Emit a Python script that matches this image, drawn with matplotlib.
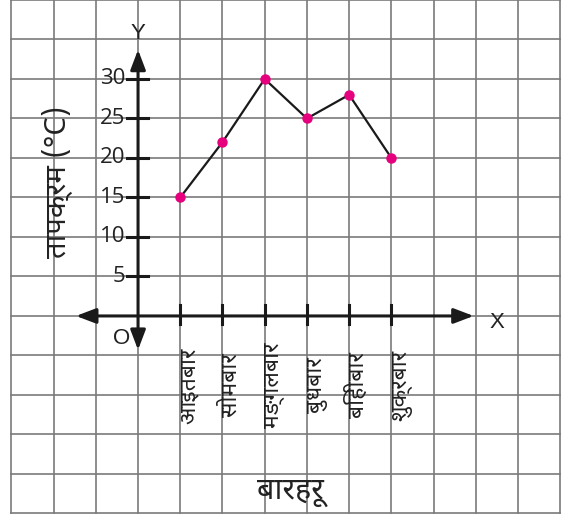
import matplotlib
matplotlib.use("Agg")
import matplotlib.pyplot as plt
from matplotlib import font_manager

# ---- data ----
days = ['आइतबार', 'सोमबार', 'मङ्गलबार', 'बुधबार', 'बिहीबार', 'शुक्रबार']
temps = [15, 22, 30, 25, 28, 20]
yticks = [5, 10, 15, 20, 25, 30]
ylabel = 'तापक्रम (°C)'
xlabel = 'बारहरू'

installed = {f.name for f in font_manager.fontManager.ttflist}
deva = next((n for n in ['Noto Sans Devanagari', 'Hind', 'Mukta', 'FreeSans']
             if n in installed), None)
deva_family = ([deva] if deva else []) + ['Open Sans', 'DejaVu Sans']

fig = plt.figure(figsize=(5.64, 5.15), dpi=100)
ax = fig.add_axes([0, 0, 1, 1])
ax.set_xlim(-3.27, 10.09)
ax.set_ylim(-25.2, 40)
ax.axis('off')

grid_c = '#7a7a7a'
for xv in range(-3, 11):
    ax.plot([xv, xv], [-25, 40], color=grid_c, lw=1.2, zorder=1)
for yv in range(-25, 41, 5):
    ax.plot([-3, 10], [yv, yv], color=grid_c, lw=1.2, zorder=1)

# axes with arrows
arrow_kw = dict(arrowstyle='<|-|>,head_length=1.0,head_width=0.38',
                color='#1a1a1a', lw=2.2, shrinkA=0, shrinkB=0, mutation_scale=12)
ax.annotate('', xy=(7.95, 0), xytext=(-1.47, 0), arrowprops=arrow_kw, zorder=3)
ax.annotate('', xy=(0, 33.7), xytext=(0, -4.3), arrowprops=arrow_kw, zorder=3)

# ticks
xs = list(range(1, len(days) + 1))
for x in xs:
    ax.plot([x, x], [-1.0, 1.4], color='#1a1a1a', lw=2.2, zorder=3)
for yv in yticks:
    ax.plot([-0.25, 0.23], [yv, yv], color='#1a1a1a', lw=2.2, zorder=3)
    ax.text(-0.3, yv, str(yv), ha='right', va='center', fontsize=16,
            family='Open Sans', color='#222222', zorder=4)

ax.text(0, 35.7, 'Y', ha='center', va='center', fontsize=16,
        family='Liberation Sans', color='#222222')
ax.text(8.5, -0.8, 'X', ha='center', va='center', fontsize=16,
        family='Liberation Sans', color='#222222')
ax.text(-0.38, -2.8, 'O', ha='center', va='center', fontsize=16,
        family='Liberation Sans', color='#222222')

# day labels
for x, d in zip(xs, days):
    ax.text(x - 0.08, -8.8, d, rotation=90, rotation_mode='anchor',
            ha='center', va='top', fontsize=16.5, family=deva_family,
            weight='semibold', color='#222222', zorder=4)

ax.text(-1.92, 17.0, ylabel, rotation=90, ha='center', va='center',
        fontsize=21, family=deva_family, weight='semibold', color='#222222')
ax.text(3.6, -22.3, xlabel, ha='center', va='center', fontsize=22,
        family=deva_family, weight='semibold', color='#222222')

# data line
ax.plot(xs, temps, color='#1a1a1a', lw=1.6, zorder=5)
ax.plot(xs, temps, 'o', color='#e6007e', markersize=6.5, zorder=6)

fig.savefig('out.png', dpi=100)
